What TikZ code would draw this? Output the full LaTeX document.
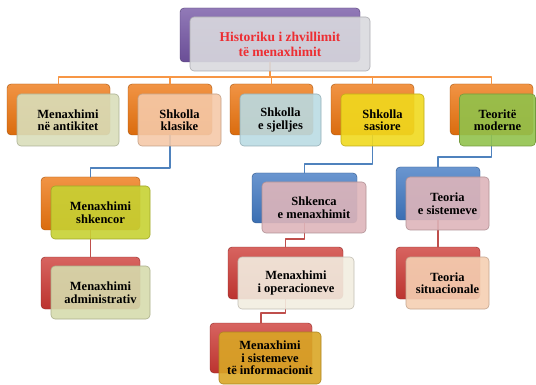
\documentclass[tikz,border=0pt]{standalone}
\usepackage{fontspec}
\setmainfont{Liberation Serif}
\usepackage{tikz}
\definecolor{orline}{rgb}{0.97,0.59,0.27}
\definecolor{blline}{rgb}{0.31,0.51,0.74}
\definecolor{rdline}{rgb}{0.75,0.31,0.30}
\definecolor{orbk}{rgb}{0.93,0.46,0.06}
\definecolor{pubk}{rgb}{0.45,0.33,0.64}
\definecolor{rdbk}{rgb}{0.80,0.22,0.20}
\definecolor{blbk}{rgb}{0.25,0.47,0.76}
\definecolor{titred}{rgb}{0.93,0.18,0.20}
\definecolor{grayfr}{rgb}{0.85,0.85,0.87}
\definecolor{olivefr}{rgb}{0.85,0.87,0.73}
\definecolor{peachfr}{rgb}{0.96,0.79,0.66}
\definecolor{bluefr}{rgb}{0.73,0.86,0.89}
\definecolor{yellowfr}{rgb}{0.94,0.85,0.12}
\definecolor{greenfr}{rgb}{0.57,0.76,0.30}
\definecolor{limefr}{rgb}{0.78,0.82,0.20}
\definecolor{palefr}{rgb}{0.84,0.86,0.68}
\definecolor{pinkfr}{rgb}{0.87,0.71,0.73}
\definecolor{creamfr}{rgb}{0.95,0.93,0.88}
\definecolor{goldfr}{rgb}{0.85,0.65,0.15}
\definecolor{salmonfr}{rgb}{0.96,0.81,0.70}

\begin{document}
\begin{tikzpicture}[line cap=round,line join=round,x=1pt,y=-1pt,
  back/.style={rounded corners=4pt,draw=#1!70!black,top color=#1!78!white,bottom color=#1!92!black,inner sep=0pt},
  front/.style={rounded corners=4pt,draw=#1!80!black,line width=0.6pt,fill=#1,fill opacity=0.9,text opacity=1,
    inner sep=0pt,align=center,font=\bfseries\fontsize{12.5}{12.5}\selectfont},
  wire/.style={line width=1.6pt,color=#1}]

\useasboundingbox (0,0) rectangle (536,385);

% back boxes
\node[back=pubk,minimum width=180pt,minimum height=54pt] (histb) at (270,35) {};
\node[back=orbk,minimum width=103pt,minimum height=51pt] (antb) at (58.5,109.5) {};
\node[back=orbk,minimum width=84pt,minimum height=51pt] (klab) at (170,109.5) {};
\node[back=orbk,minimum width=83pt,minimum height=51pt] (sjeb) at (271.5,109.5) {};
\node[back=orbk,minimum width=83pt,minimum height=51pt] (sasb) at (372.5,109.5) {};
\node[back=orbk,minimum width=83pt,minimum height=51pt] (modb) at (491.5,109.5) {};
\node[back=orbk,minimum width=99pt,minimum height=53pt] (shkb) at (90.5,203.5) {};
\node[back=rdbk,minimum width=99pt,minimum height=52pt] (admb) at (90.5,283) {};
\node[back=blbk,minimum width=105pt,minimum height=50pt] (shmb) at (304.5,198) {};
\node[back=rdbk,minimum width=115pt,minimum height=52pt] (opb) at (285.5,273) {};
\node[back=rdbk,minimum width=102pt,minimum height=50pt] (infb) at (261,348) {};
\node[back=blbk,minimum width=84pt,minimum height=53pt] (sisb) at (438,193.5) {};
\node[back=rdbk,minimum width=84pt,minimum height=52pt] (sitb) at (438,273) {};

% connectors
\coordinate (hub) at (270,77);
\draw[wire=orline] (histb.south) -- (hub);
\draw[wire=orline] (antb.north) |- (hub) -| (modb.north);
\foreach \n in {klab,sjeb,sasb}
  \draw[wire=orline] (\n.north) -- (\n.north |- hub);
\draw[wire=blline] (klab.south) -- ++(0,33) -| (shkb.north);
\draw[wire=blline] (sasb.south) -- ++(0,29) -| (shmb.north);
\draw[wire=blline] (modb.south) -- ++(0,22) -| (sisb.north);
\draw[wire=rdline] (shkb.south) -- (admb.north);
\draw[wire=rdline] (shmb.south) -- ++(0,16) -| (opb.north);
\draw[wire=rdline] (opb.south) -- ++(0,14) -| (infb.north);
\draw[wire=rdline] (sisb.south) -- (sitb.north);

% front boxes
\node[front=grayfr,minimum width=180pt,minimum height=54pt,text=titred,
  font=\bfseries\fontsize{13.5}{15}\selectfont] (histf) at (280,44) {Historiku i zhvillimit\\të menaxhimit};
\node[front=olivefr,minimum width=102pt,minimum height=52pt] (antf) at (68,120) {Menaxhimi\\në antikitet};
\node[front=peachfr,minimum width=83pt,minimum height=52pt] (klaf) at (179.5,120) {Shkolla\\klasike};
\node[front=bluefr,minimum width=81pt,minimum height=52pt] (sjef) at (280.5,120) {Shkolla\\e sjelljes};
\node[front=yellowfr,minimum width=83pt,minimum height=52pt] (sasf) at (382.5,120) {Shkolla\\sasiore};
\node[front=greenfr,minimum width=76pt,minimum height=52pt] (modf) at (497.5,120) {Teoritë\\moderne};
\node[front=limefr,minimum width=99pt,minimum height=53pt] (shkf) at (100.5,212.5) {Menaxhimi\\shkencor};
\node[front=palefr,minimum width=99pt,minimum height=53pt] (admf) at (100.5,292.5) {Menaxhimi\\administrativ};
\node[front=pinkfr,minimum width=104pt,minimum height=51pt] (shmf) at (314,207.5) {Shkenca\\e menaxhimit};
\node[front=creamfr,minimum width=116pt,minimum height=52pt] (opf) at (296,283) {Menaxhimi\\i operacioneve};
\node[front=goldfr,minimum width=102pt,minimum height=52pt] (inff) at (270,358) {Menaxhimi\\i sistemeve\\të informacionit};
\node[front=pinkfr,minimum width=83pt,minimum height=53pt] (sisf) at (447.5,203.5) {Teoria\\e sistemeve};
\node[front=salmonfr,minimum width=83pt,minimum height=52pt] (sitf) at (447.5,283) {Teoria\\situacionale};

\end{tikzpicture}
\end{document}
